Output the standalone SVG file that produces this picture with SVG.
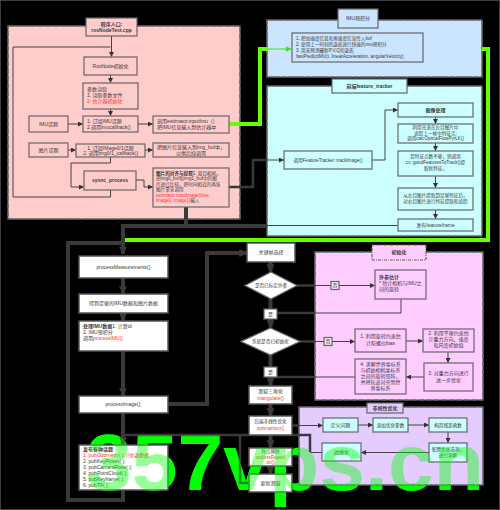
<svg xmlns="http://www.w3.org/2000/svg" xmlns:xlink="http://www.w3.org/1999/xlink" width="500" height="510" viewBox="0 0 500 510">
<defs>
<marker id="a" viewBox="0 0 10 10" refX="9" refY="5" markerWidth="5" markerHeight="5" markerUnits="userSpaceOnUse" orient="auto"><path d="M0,0L10,5L0,10z" fill="#333"/></marker>
<marker id="A" viewBox="0 0 10 10" refX="9" refY="5" markerWidth="8" markerHeight="8" markerUnits="userSpaceOnUse" orient="auto"><path d="M0,0L10,5L0,10z" fill="#3a3a3a"/></marker>
<marker id="g" viewBox="0 0 10 10" refX="9" refY="5" markerWidth="6" markerHeight="6" markerUnits="userSpaceOnUse" orient="auto"><path d="M0,0L10,5L0,10z" fill="#44dd22"/></marker>
</defs>
<style>
text{font-family:"Liberation Sans","Noto Sans CJK SC",sans-serif;font-size:5px;fill:#3a3a3a}
.c{text-anchor:middle}
.b{font-weight:bold}
.r{fill:#ff3333}
.s{font-size:4.6px}
rect,polygon{stroke:#666;stroke-width:1.2}
.pk{fill:#ffcccc}
.wh{fill:#fff;stroke:#555;stroke-width:1.5}
.cy{fill:#ccffff}
.mg{fill:#ffccff}
.bl{fill:#cce5ff}
.pu{fill:#e5ccff}
.th{fill:none;stroke:#3a3a3a;stroke-width:4}
.md{fill:none;stroke:#3a3a3a;stroke-width:2.5}
.tn{fill:none;stroke:#444;stroke-width:1}
.gr{fill:none;stroke:#66ff00;stroke-width:4}
.wm{font-family:"Liberation Sans",sans-serif;font-size:80px;font-weight:bold;fill:#00ff00}
</style>
<rect x="0" y="0" width="500" height="510" fill="#000" stroke="none"/>
<text id="wm" class="wm" x="86" y="490" textLength="398" lengthAdjust="spacingAndGlyphs">357vps.cn</text>

<g id="regions">
<rect x="8" y="26" width="232" height="193" fill="#ffcccc" stroke="#fff" stroke-width="3"/>
<rect x="8" y="26" width="232" height="193" fill="none" stroke="#ff0000" stroke-width="3" stroke-dasharray="5 2.5"/>
<rect x="267" y="20" width="215" height="57" fill="#cce5ff" stroke="#fff" stroke-width="2.5"/>
<rect x="267" y="20" width="215" height="57" fill="none" stroke="#0000ff" stroke-width="2.5" stroke-dasharray="4 2"/>
<rect x="267" y="86" width="215" height="150" fill="#ccffff" stroke="#fff" stroke-width="2"/>
<rect x="267" y="86" width="215" height="150" fill="none" stroke="#00dddd" stroke-width="2" stroke-dasharray="4 2"/>
<rect x="315" y="252" width="168" height="148" fill="#ffccff" stroke="#fff" stroke-width="3"/>
<rect x="315" y="252" width="168" height="148" fill="none" stroke="#ff00ff" stroke-width="3" stroke-dasharray="5 2.5"/>
<rect x="299" y="407" width="184" height="78" fill="#e5ccff" stroke="none"/>
<rect x="299" y="407" width="184" height="78" fill="none" stroke="#4c0099" stroke-width="2" stroke-dasharray="4 2"/>
</g>

<g id="connectors">
<path class="gr" d="M229,124H260V49H268"/>
<path d="M268,49H291" fill="none" stroke="#44dd22" stroke-width="1" marker-end="url(#g)"/>
<path class="gr" d="M482,49H488V240H122"/>
<path class="tn" d="M111.5,36V56.5" marker-end="url(#a)"/>
<path class="tn" d="M110.5,190V197H13V47H110.5"/>
<path class="tn" d="M110.5,75V82.5" marker-end="url(#a)"/>
<path class="tn" d="M110.5,109V115.5" marker-end="url(#a)"/>
<path class="tn" d="M68,124H82.5" marker-end="url(#a)"/>
<path class="tn" d="M138,124H152.5" marker-end="url(#a)"/>
<path class="tn" d="M68,150H75.5" marker-end="url(#a)"/>
<path class="tn" d="M145,150H152.5" marker-end="url(#a)"/>
<path class="tn" d="M110.5,157V163H71V187H83.5" marker-end="url(#a)"/>
<path class="tn" d="M136,180H144V187H152.5" marker-end="url(#a)"/>
<path class="md" d="M229,187H253V160H267"/>
<path class="tn" d="M267,160H283.5" marker-end="url(#a)"/>
<path class="tn" d="M372,160H385V110H397.5" marker-end="url(#a)"/>
<path class="tn" d="M435.5,117V123.5" marker-end="url(#a)"/>
<path class="tn" d="M435.5,143V150.5" marker-end="url(#a)"/>
<path class="tn" d="M435.5,176V187.5" marker-end="url(#a)"/>
<path class="tn" d="M435.5,210V218.5" marker-end="url(#a)"/>
<path class="tn" d="M398,225.5H267"/>
<path class="th" d="M267,226H186"/>
<path class="th" d="M186,207V226H123V254" marker-end="url(#A)"/>
<path class="th" d="M123,278V293.5" marker-end="url(#A)"/>
<path class="th" d="M123,313V320.5" marker-end="url(#A)"/>
<path class="th" d="M123,351V395.5" marker-end="url(#A)"/>
<path class="th" d="M123,413V444.5" marker-end="url(#A)"/>
<path class="th" d="M123,490V500H68V243H123"/>
<path class="th" d="M168,404H207V253H246.5" marker-end="url(#A)"/>
<path class="md" d="M310,452V435H123"/>
<path class="tn" d="M322,452.5H310"/>
<path class="md" d="M249,483H240V435"/>
<path class="th" d="M270.5,262V271.5" marker-end="url(#A)"/>
<path class="th" d="M270.5,299V327.5" marker-end="url(#A)"/>
<path class="th" d="M270.5,355V385.5" marker-end="url(#A)"/>
<path class="th" d="M270.5,404V415.5" marker-end="url(#A)"/>
<path class="th" d="M270.5,435V447.5" marker-end="url(#A)"/>
<path class="th" d="M270.5,466V473.5" marker-end="url(#A)"/>
<path class="md" d="M297,285.5H315"/>
<path class="tn" d="M315,285.5H374.5" marker-end="url(#a)"/>
<path class="tn" d="M401,299V313H315"/>
<path class="md" d="M315,313H271"/>
<path class="md" d="M300,341.5H315"/>
<path class="tn" d="M315,341.5H354.5" marker-end="url(#a)"/>
<path class="tn" d="M406,341H422.5" marker-end="url(#a)"/>
<path class="tn" d="M448,352V362.5" marker-end="url(#a)"/>
<path class="tn" d="M424,377H406.5" marker-end="url(#a)"/>
<path class="tn" d="M355,377H315"/>
<path class="md" d="M315,377H271"/>
<path class="md" d="M292,425.5H299"/>
<path class="tn" d="M299,425.5H322.5" marker-end="url(#a)"/>
<path class="tn" d="M358,425H372.5" marker-end="url(#a)"/>
<path class="tn" d="M408,425H428.5" marker-end="url(#a)"/>
<path class="tn" d="M448,432V442.5" marker-end="url(#a)"/>
<path class="tn" d="M429,452.5H361.5" marker-end="url(#a)"/>
</g>

<g id="label-imu"><rect class="bl" x="338" y="9" width="40" height="19"/><text class="c" x="358" y="20">IMU预积分</text></g>
<g id="label-ft"><rect class="cy" x="332" y="79" width="75" height="14"/><text class="c b" x="369.5" y="87.8">前端feature_tracker</text></g>
<g id="label-init"><rect x="372" y="245" width="54" height="15" fill="#ffccff" stroke="#333" stroke-dasharray="3 1 1 1"/><text class="c b" x="399" y="254.3">初始化</text></g>
<g id="label-opt"><rect class="pu" x="367" y="403" width="36" height="10"/><text class="c b" x="385" y="409.8">非线性优化</text></g>

<g id="n-entry"><rect class="pk" x="86" y="18" width="51" height="18"/><text class="c b" x="111.5" y="25.5">程序入口:</text><text class="c b" x="111.5" y="32">rosNodeTest.cpp</text></g>
<g id="n-rosnode"><rect class="pk" x="84" y="57" width="53" height="18"/><text class="c" x="110.5" y="67.8">RosNode初始化</text></g>
<g id="n-param"><rect class="pk" x="83" y="83" width="55" height="26"/><text x="87" y="91">参数读取</text><text x="87" y="97">1. 读取参数文件</text><text x="87" y="103" class="r">2: 估计器初始化</text></g>
<g id="n-imutopic"><rect class="pk" x="29" y="116" width="39" height="16"/><text class="c" x="48.5" y="125.8">IMU话题</text></g>
<g id="n-imusub"><rect class="pk" x="83" y="116" width="55" height="16"/><text x="87" y="122.5">1. 订阅IMU话题</text><text x="87" y="128.7">2.调用imucallback()</text></g>
<g id="n-estim"><rect class="pk" x="153" y="116" width="76" height="17"/><text x="157" y="122.5">调用estimator.inputImu（）</text><text x="157" y="129">把IMU信息输入到估计器中</text></g>
<g id="n-imgtopic"><rect class="pk" x="29" y="143" width="39" height="14"/><text class="c" x="48.5" y="151.8">图片话题</text></g>
<g id="n-imgsub"><rect class="pk" x="76" y="144" width="69" height="13"/><text class="c" x="110.5" y="149.5">1. 订阅IMage0/1话题</text><text class="c" x="110.5" y="155.2">2. 调用img0/1_callback()</text></g>
<g id="n-imgbuf"><rect class="pk" x="153" y="143" width="76" height="14"/><text class="c" x="191" y="149">把图片信息输入到img_buf中，</text><text class="c" x="191" y="155">以供后续调用</text></g>
<g id="n-sync"><rect class="pk" x="84" y="171" width="52" height="19"/><text class="c b" x="110" y="182.3">sysnc_process</text></g>
<g id="n-align"><rect class="pk" x="153" y="168" width="76" height="39"/>
<text class="s" x="156" y="174.5"><tspan class="b">图片的对齐与提取</tspan>1. 双目相机，</text>
<text class="s" x="156" y="180">把img0_buf和img1_buf中的图</text>
<text class="s" x="156" y="185.5">片进行比较，把时间相近的两张</text>
<text class="s" x="156" y="191">图片拿来调用</text>
<text class="s r" x="156" y="196.5">estimator.inputImage(time,</text>
<text class="s" x="156" y="202"><tspan class="r">image0, image1)</tspan>输入</text></g>

<g id="n-imupred"><rect class="bl" x="292" y="33" width="131" height="29"/>
<text class="s" x="296" y="40">1. 把加速度信息和角速度信息传入buf</text>
<text class="s" x="296" y="46">2. 使用上一时刻的姿态进行快速的imu预积分</text>
<text class="s" x="296" y="52">3. 用来预测最新P,V,Q的姿态</text>
<text class="s" x="296" y="58">fastPredictIMU(t, linearAcceleration, angularVelocity);</text></g>

<g id="n-track"><rect class="cy" x="284" y="151" width="88" height="18"/><text class="c s" x="328" y="161.6">调用FeatureTracker::trackImage()</text></g>
<g id="n-imgproc"><rect class="cy" x="398" y="103" width="75" height="14"/><text class="c b" x="435.5" y="111.8">图像处理</text></g>
<g id="n-flow"><rect class="cy" x="398" y="124" width="75" height="19"/><text class="c s" x="435.5" y="129">利用光流在左目图片中</text><text class="c s" x="435.5" y="134.5">追踪上一帧中特征点;</text><text class="c s" x="435.5" y="140">调用calcOpticalFlowPyrLK()</text></g>
<g id="n-good"><rect class="cy" x="398" y="151" width="75" height="25"/><text class="c s" x="435.5" y="158">若特征点数不够，则调用</text><text class="c s" x="435.5" y="164">cv::goodFeaturesToTrack()提</text><text class="c s" x="435.5" y="170">取新特征。</text></g>
<g id="n-right"><rect class="cy" x="398" y="188" width="75" height="22"/><text class="c s" x="435.5" y="197">从左目图片提取到足够特征后，</text><text class="c s" x="435.5" y="203">对右目图片进行特征提取和追踪</text></g>
<g id="n-pubff"><rect class="cy" x="398" y="219" width="75" height="12"/><text class="c" x="435.5" y="226.8">发布featureframe</text></g>

<g id="n-pm"><rect class="wh" x="79" y="256" width="89" height="22"/><text class="c" x="123.5" y="268.8">processMeasurements()</text></g>
<g id="n-enough"><rect class="wh" x="79" y="294" width="89" height="19"/><text class="c" x="123.5" y="305.3">得到足够的IMU数据和图片数据</text></g>
<g id="n-procimu"><rect class="wh" x="79" y="321" width="89" height="30"/><text x="83" y="327.5"><tspan class="b">处理IMU数据</tspan>1. 计算dt</text><text x="83" y="333.5">2. IMU预积分</text><text x="83" y="339.5">调用<tspan class="r">processIMU()</tspan></text></g>
<g id="n-pi"><rect class="wh" x="79" y="396" width="89" height="17"/><text class="c" x="123.5" y="406.3">processImage();</text></g>
<g id="n-pub"><rect class="wh" x="79" y="445" width="89" height="45"/>
<text class="b" x="83" y="450.8">发布各种话题</text>
<text class="r" x="83" y="456.8">1. pubOdometry( ); //位姿数据</text>
<text x="83" y="462.8">2. pubKeyPoses( );</text>
<text x="83" y="468.8">3. pubCameraPose( );</text>
<text x="83" y="474.8">4. pubPointCloud( );</text>
<text x="83" y="480.8">5. pubKeyframe( );</text>
<text x="83" y="486.8">6. pubTF( );</text></g>

<g id="n-kf"><rect class="wh" x="247" y="243" width="48" height="19" stroke-width="2.2"/><text class="c" x="271" y="254.3">关键帧选择</text></g>
<g id="n-d1"><polygon points="271,272 297,285.5 271,299 245,285.5" fill="#fff" stroke="#555"/><text class="c s" x="271" y="287.2">是否已标定外参</text></g>
<g id="n-extr"><rect class="mg" x="375" y="270" width="51" height="29"/><text class="b" x="379" y="279">外参估计</text><text x="379" y="285">* 估计相机与IMU之</text><text x="379" y="291">间的旋转</text></g>
<g id="n-d2"><polygon points="270.5,328 300,341.5 270.5,355 241,341.5" fill="#fff" stroke="#555"/><text class="c s" x="270.5" y="343.2">系统是否已初始化</text></g>
<g id="n-i1"><rect class="mg" x="355" y="329" width="51" height="23"/><text class="c" x="380.5" y="338">1. 利用旋转约束估</text><text class="c" x="380.5" y="344.5">计陀螺仪bias</text></g>
<g id="n-i2"><rect class="mg" x="423" y="329" width="51" height="23"/><text class="c" x="448.5" y="335">2. 利用平移约束估</text><text class="c" x="448.5" y="341">计重力方向、速度</text><text class="c" x="448.5" y="347">和尺度初始值</text></g>
<g id="n-i3"><rect class="mg" x="424" y="363" width="49" height="28"/><text class="c" x="448.5" y="374.5">3. 对重力方向进行</text><text class="c" x="448.5" y="381.5">进一步优化</text></g>
<g id="n-i4"><rect class="mg" x="355" y="359" width="51" height="35"/><text class="c" x="380.5" y="365.5">4. 求解世界坐标系</text><text class="c" x="380.5" y="371.5">与初始相机坐标系</text><text class="c" x="380.5" y="377.5">之间的旋转矩阵，</text><text class="c" x="380.5" y="383.5">并将轨迹对齐到世</text><text class="c" x="380.5" y="389.5">界坐标系</text></g>

<g id="n-tri"><rect class="wh" x="249" y="386" width="43" height="18"/><text class="c" x="270.5" y="392.8">滑窗三角化</text><text class="c r" x="270.5" y="399.8">triangulate()</text></g>
<g id="n-opt"><rect class="wh" x="249" y="416" width="43" height="19"/><text class="c s" x="270.5" y="422.8">后端非线性优化</text><text class="c r s" x="270.5" y="430.2">optimazition()</text></g>
<g id="n-out"><rect class="wh" x="249" y="448" width="43" height="18"/><text class="c s" x="270.5" y="453.2">外点移除</text><text class="c r s" x="270.5" y="458.8">outliersRejecti</text><text class="c r s" x="270.5" y="464.4">on()</text></g>
<g id="n-upd"><rect class="wh" x="249" y="474" width="43" height="18"/><text class="c" x="270.5" y="484.8">更新滑窗</text></g>

<g id="n-def"><rect class="cy" x="323" y="418" width="35" height="14"/><text class="c" x="340.5" y="426.8">定义问题</text></g>
<g id="n-add"><rect class="cy" x="373" y="418" width="35" height="14"/><text class="c s" x="390.5" y="426.6">添加优化参数</text></g>
<g id="n-res"><rect class="cy" x="429" y="418" width="38" height="14"/><text class="c s" x="448" y="426.6">构造残差函数</text></g>
<g id="n-conf"><rect class="cy" x="429" y="443" width="38" height="19"/><text class="c s" x="448" y="451">配置优化选项，</text><text class="c s" x="448" y="457">进行求解</text></g>
<g id="n-marg"><rect class="cy" x="322" y="443" width="39" height="18"/><text class="c" x="341.5" y="453.8">边缘化</text></g>

<g id="edge-labels">
<rect x="264" y="309" width="13" height="10" fill="#fff" stroke="#666" stroke-width="0.8"/><text class="c" x="270.5" y="315.8">是</text>
<rect x="264" y="367" width="13" height="10" fill="#fff" stroke="#666" stroke-width="0.8"/><text class="c" x="270.5" y="373.8">是</text>
<rect x="331" y="281.5" width="8" height="8" fill="#eee" stroke="none"/><text class="c" x="335" y="287.3">否</text>
<rect x="324" y="337.5" width="8" height="8" fill="#eee" stroke="none"/><text class="c" x="328" y="343.3">否</text>
</g>

<use href="#wm" xlink:href="#wm" opacity="0.4"/>
</svg>
